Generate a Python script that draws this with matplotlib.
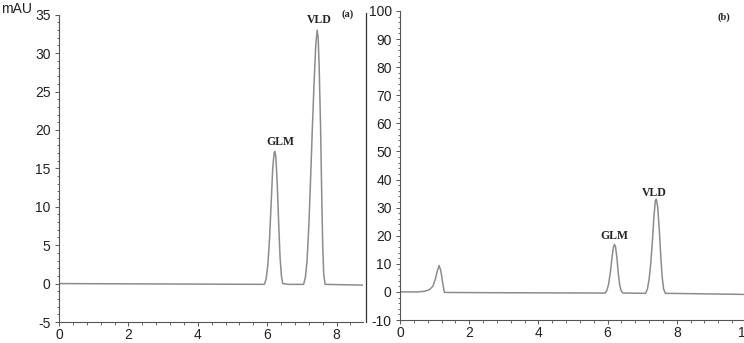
import matplotlib
matplotlib.use("Agg")
import matplotlib.pyplot as plt
from matplotlib.ticker import MultipleLocator
from matplotlib.lines import Line2D

plt.rcParams["axes.unicode_minus"] = False

# Panel (a) trace: retention time (min) and signal (mAU)
time_a = [0.0, 3.0, 5.92, 5.97, 6.02, 6.07, 6.12, 6.16, 6.2, 6.22, 6.25, 6.29, 6.33,
          6.37, 6.41, 6.45, 6.6,
          7.05, 7.1, 7.15, 7.2, 7.25, 7.3, 7.35, 7.4, 7.44, 7.47, 7.5, 7.54, 7.57,
          7.6, 7.63, 7.67, 8.75]
signal_a = [0.0, -0.05, -0.1, 0.6, 2.5, 6.0, 11.0, 15.0, 17.0, 17.2, 16.5, 13.0, 8.0,
            3.5, 1.0, 0.0, -0.1,
            -0.1, 0.8, 3.0, 7.5, 13.5, 20.0, 26.0, 31.0, 33.0, 32.0, 28.0, 20.0, 12.0,
            5.0, 1.2, -0.1, -0.2]

# Panel (b) trace
time_b = [0.0, 0.5, 0.7, 0.85, 0.95, 1.02, 1.08, 1.13, 1.18, 1.23, 1.28, 1.35, 3.0,
          5.93, 5.98, 6.03, 6.08, 6.13, 6.17, 6.2, 6.23, 6.27, 6.31, 6.35, 6.39, 6.44,
          7.1, 7.15, 7.2, 7.25, 7.3, 7.34, 7.38, 7.41, 7.45, 7.5, 7.54, 7.58, 7.62,
          7.67, 10.0]
signal_b = [0.0, 0.0, 0.2, 0.8, 2.0, 4.5, 7.5, 9.4, 7.5, 3.5, -0.1, -0.2, -0.3,
            -0.4, 0.6, 2.8, 7.0, 12.5, 16.0, 16.9, 16.0, 12.0, 6.5, 2.5, 0.5, -0.4,
            -0.5, 1.0, 4.5, 10.5, 19.0, 27.0, 32.5, 33.0, 30.0, 21.0, 12.0, 5.0, 1.0,
            -0.5, -0.9]

# Peak labels
labels_a = ["GLM", "VLD"]
label_x_a = [6.37, 7.49]
label_y_a = [18.4, 34.3]
labels_b = ["GLM", "VLD"]
label_x_b = [6.21, 7.34]
label_y_b = [20.0, 35.3]

xticks_a = [0, 2, 4, 6, 8]
yticks_a = [-5, 0, 5, 10, 15, 20, 25, 30, 35]
xticks_b = [0, 2, 4, 6, 8, 10]
yticks_b = [-10, 0, 10, 20, 30, 40, 50, 60, 70, 80, 90, 100]

W, H = 744, 343
fig = plt.figure(figsize=(W / 100, H / 100), dpi=100)

sans = "Liberation Sans"
serif = "Liberation Serif"
trace_col = "#8c8c8c"
axis_col = "#555555"
text_col = "#222222"


def style(ax, xticks, yticks, xminor, yminor):
    for s in ["top", "right"]:
        ax.spines[s].set_visible(False)
    for s in ["left", "bottom"]:
        ax.spines[s].set_color(axis_col)
        ax.spines[s].set_linewidth(0.8)
    ax.set_xticks(xticks)
    ax.set_yticks(yticks)
    ax.xaxis.set_minor_locator(MultipleLocator(xminor))
    ax.yaxis.set_minor_locator(MultipleLocator(yminor))
    ax.tick_params(which="major", length=3, width=0.7, color=axis_col,
                   labelsize=10, labelcolor=text_col, pad=3)
    ax.tick_params(axis="x", which="major", pad=1.5)
    ax.tick_params(which="minor", length=1.8, width=0.6, color=axis_col)
    for lab in ax.get_xticklabels() + ax.get_yticklabels():
        lab.set_fontfamily(sans)
    ax.set_facecolor("none")


# Panel (a)
ax_a = fig.add_axes([59 / W, 21 / H, (362.6 - 59) / W, 307.3 / H])
ax_a.plot(time_a, signal_a, color=trace_col, lw=1.1)
ax_a.set_xlim(0, 8.75)
ax_a.set_ylim(-5, 35)
style(ax_a, xticks_a, yticks_a, 0.4, 1)
for t, x, y in zip(labels_a, label_x_a, label_y_a):
    ax_a.text(x, y, t, ha="center", va="center", fontsize=8.5, fontweight="bold",
              fontfamily=serif, color=text_col, clip_on=False)
ax_a.text(8.33, 35.1, "(a)", ha="center", va="center", fontsize=7.5, fontweight="bold",
          fontfamily=serif, color=text_col, clip_on=False)

# Panel (b)
ax_b = fig.add_axes([400 / W, 23 / H, 346 / W, 309 / H])
ax_b.plot(time_b, signal_b, color=trace_col, lw=1.1)
ax_b.set_xlim(0, 10)
ax_b.set_ylim(-10, 100)
style(ax_b, xticks_b, yticks_b, 0.4, 2)
for t, x, y in zip(labels_b, label_x_b, label_y_b):
    ax_b.text(x, y, t, ha="center", va="center", fontsize=8.5, fontweight="bold",
              fontfamily=serif, color=text_col, clip_on=False)
ax_b.text(9.36, 97.8, "(b)", ha="center", va="center", fontsize=7.5, fontweight="bold",
          fontfamily=serif, color=text_col, clip_on=False)

# separator line between panels and unit label
fig.add_artist(Line2D([366 / W, 366 / W], [1 - 13 / H, 1 - 322 / H],
                      transform=fig.transFigure, color="#333333", lw=0.9))
fig.text(1 / W, 1 - 9 / H, "mAU", ha="left", va="center", fontsize=10,
         fontfamily=sans, color=text_col)

fig.savefig("out.png", dpi=100)
